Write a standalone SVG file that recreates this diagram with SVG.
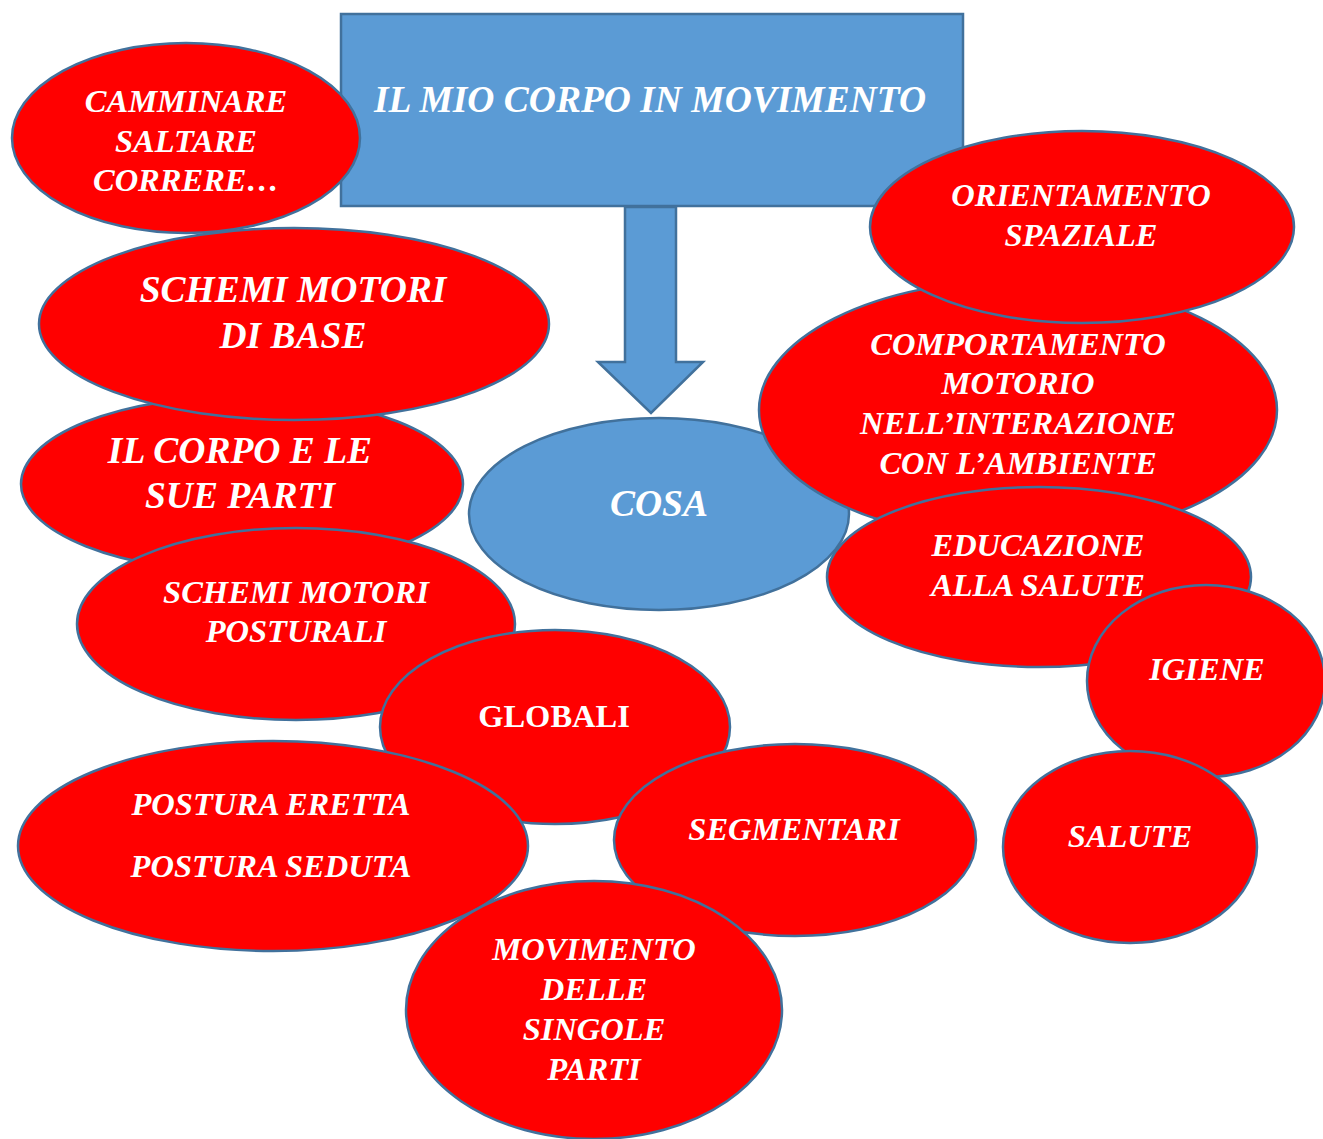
<svg xmlns="http://www.w3.org/2000/svg" width="1323" height="1139" viewBox="0 0 1323 1139">
  <style>
    .red { fill: #FF0000; stroke: #41719C; stroke-width: 2.5; }
    .blue { fill: #5B9BD5; stroke: #41719C; stroke-width: 2.5; }
    text { font-family: "Liberation Serif", "Times New Roman", serif; font-weight: bold; font-style: italic; fill: #FFFFFF; text-anchor: middle; }
    .s30 { font-size: 32.5px; }
    .s34 { font-size: 37.5px; }
    .s36 { font-size: 37.5px; }
    .upright { font-style: normal; }
  </style>
  <rect width="1323" height="1139" fill="#FFFFFF"/>

  <!-- title box -->
  <g id="title">
    <rect class="blue" x="341" y="14" width="622" height="192"/>
    <text class="s36" x="650" y="112">IL MIO CORPO IN MOVIMENTO</text>
  </g>

  <!-- block arrow from the title to COSA -->
  <g id="connectors">
    <path class="blue" d="M625,207 H676 V362 H703 L651,413 L598,362 H625 Z"/>
  </g>

  <g id="cosa">
    <ellipse class="blue" cx="659" cy="514" rx="190" ry="96"/>
    <text class="s34" x="659" y="516">COSA</text>
  </g>

  <g id="camminare">
    <ellipse class="red" cx="186" cy="138" rx="174" ry="95"/>
    <text class="s30" x="186" y="112">CAMMINARE</text>
    <text class="s30" x="186" y="152">SALTARE</text>
    <text class="s30" x="186" y="191">CORRERE…</text>
  </g>

  <g id="il-corpo">
    <ellipse class="red" cx="242" cy="484" rx="221" ry="88"/>
    <text class="s34" x="240" y="463">IL CORPO E LE</text>
    <text class="s34" x="240" y="508">SUE PARTI</text>
  </g>

  <g id="schemi-base">
    <ellipse class="red" cx="294" cy="324" rx="255" ry="96"/>
    <text class="s34" x="293" y="302">SCHEMI MOTORI</text>
    <text class="s34" x="293" y="348">DI BASE</text>
  </g>

  <g id="schemi-posturali">
    <ellipse class="red" cx="296" cy="624" rx="219" ry="96"/>
    <text class="s30" x="296" y="603">SCHEMI MOTORI</text>
    <text class="s30" x="296" y="642">POSTURALI</text>
  </g>

  <g id="globali">
    <ellipse class="red" cx="555" cy="727" rx="175" ry="97"/>
    <text class="s30 upright" x="554" y="727">GLOBALI</text>
  </g>

  <g id="postura">
    <ellipse class="red" cx="273" cy="846" rx="255" ry="105"/>
    <text class="s30" x="271" y="815">POSTURA ERETTA</text>
    <text class="s30" x="271" y="877">POSTURA SEDUTA</text>
  </g>

  <g id="segmentari">
    <ellipse class="red" cx="795" cy="840" rx="181" ry="96"/>
    <text class="s30" x="794" y="840">SEGMENTARI</text>
  </g>

  <g id="movimento">
    <ellipse class="red" cx="594" cy="1010" rx="188" ry="129"/>
    <text class="s30" x="594" y="960">MOVIMENTO</text>
    <text class="s30" x="594" y="1000">DELLE</text>
    <text class="s30" x="594" y="1040">SINGOLE</text>
    <text class="s30" x="594" y="1080">PARTI</text>
  </g>

  <g id="comportamento">
    <ellipse class="red" cx="1018" cy="410" rx="259" ry="130"/>
    <text class="s30" x="1018" y="355">COMPORTAMENTO</text>
    <text class="s30" x="1018" y="394">MOTORIO</text>
    <text class="s30" x="1018" y="434">NELL’INTERAZIONE</text>
    <text class="s30" x="1018" y="474">CON L’AMBIENTE</text>
  </g>

  <g id="orientamento">
    <ellipse class="red" cx="1082" cy="227" rx="212" ry="96"/>
    <text class="s30" x="1081" y="206">ORIENTAMENTO</text>
    <text class="s30" x="1081" y="246">SPAZIALE</text>
  </g>

  <g id="educazione">
    <ellipse class="red" cx="1039" cy="577" rx="212" ry="90"/>
    <text class="s30" x="1038" y="556">EDUCAZIONE</text>
    <text class="s30" x="1038" y="596">ALLA SALUTE</text>
  </g>

  <g id="igiene">
    <ellipse class="red" cx="1206" cy="681" rx="119" ry="96"/>
    <text class="s30" x="1207" y="680">IGIENE</text>
  </g>

  <g id="salute">
    <ellipse class="red" cx="1130" cy="847" rx="127" ry="96"/>
    <text class="s30" x="1130" y="847">SALUTE</text>
  </g>
</svg>
